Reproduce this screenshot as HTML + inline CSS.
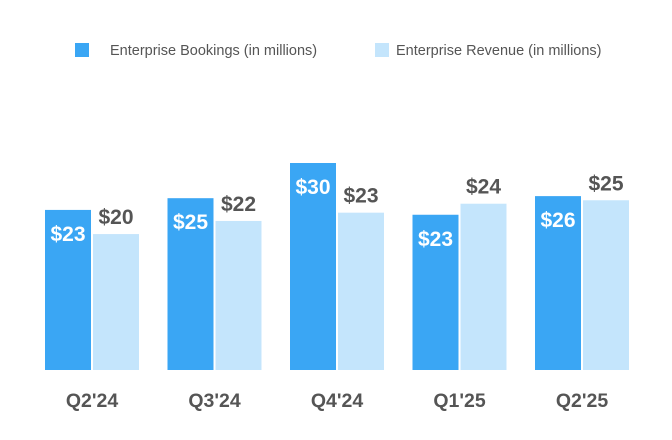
<!DOCTYPE html>
<html><head><meta charset="utf-8"><style>
body{margin:0;background:#fff;font-family:"Liberation Sans",sans-serif;}
svg{display:block}
</style></head><body>
<svg id="chart" width="672" height="440" xmlns="http://www.w3.org/2000/svg">
<g>
<rect x="75" y="43" width="14" height="14" fill="#3aa6f4"/>
<text x="110" y="55" font-size="14.5" fill="#555">Enterprise Bookings (in millions)</text>
<rect x="375" y="43" width="14" height="14" fill="#c4e5fc"/>
<text x="396" y="55" font-size="14.5" fill="#555">Enterprise Revenue (in millions)</text>
</g>
<g id="bars"></g>
</svg>
<script>
const categories=["Q2'24","Q3'24","Q4'24","Q1'25","Q2'25"];
const bookings=[23.2,24.9,30.0,22.5,25.2];
const revenue=[19.7,21.6,22.8,24.1,24.6];
const bookingLabels=["$23","$25","$30","$23","$26"];
const revenueLabels=["$20","$22","$23","$24","$25"];
const NS="http://www.w3.org/2000/svg";
const g=document.getElementById('bars');
const baseY=370, scale=6.9, groupStart=45, groupStep=122.5, barW=46, gap=2;
function y(v){return baseY-v*scale;}
function mk(tag,attrs){const e=document.createElementNS(NS,tag);for(const k in attrs)e.setAttribute(k,attrs[k]);g.appendChild(e);return e;}
categories.forEach((c,i)=>{
  const x0=groupStart+i*groupStep;
  const b=mk('rect',{x:x0,y:y(bookings[i]),width:barW,height:bookings[i]*scale,fill:'#3aa6f4'});
  
  
  const r=mk('rect',{x:x0+barW+gap,y:y(revenue[i]),width:barW,height:revenue[i]*scale,fill:'#c4e5fc'});
  
  
  const bl=mk('text',{x:x0+barW/2,y:y(bookings[i])+31,'font-size':21,'font-weight':'bold',fill:'#fff','text-anchor':'middle'});
  bl.textContent=bookingLabels[i];
  
  
  const rl=mk('text',{x:x0+barW+gap+barW/2,y:y(revenue[i])-10,'font-size':21,'font-weight':'bold',fill:'#555','text-anchor':'middle'});
  rl.textContent=revenueLabels[i];
  
  
  const xl=mk('text',{x:x0+barW+gap/2,y:407,'font-size':19.5,'font-weight':'bold',fill:'#555','text-anchor':'middle'});
  xl.textContent=c;
  
  
});
</script>
</body></html>
